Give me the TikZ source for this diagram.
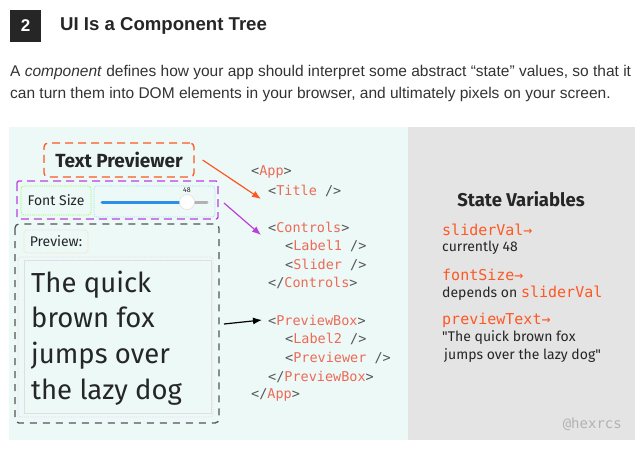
\documentclass[tikz,border=0pt]{standalone}
\usepackage{fontspec}
\setmainfont{Liberation Sans}
\setmonofont{DejaVu Sans Mono}
\newfontfamily\uifont{Fira Sans}
\usetikzlibrary{arrows.meta}
\definecolor{mint}{HTML}{ECF9F6}
\definecolor{panelgray}{HTML}{E4E4E4}
\definecolor{ink}{HTML}{262626}
\definecolor{bodytxt}{HTML}{333333}
\definecolor{tagred}{HTML}{EC6A58}
\definecolor{bracket}{HTML}{555555}
\definecolor{hot}{HTML}{FF5722}
\definecolor{purp}{HTML}{BB3FE0}
\definecolor{sliderblue}{HTML}{2E8FEA}
\definecolor{framegray}{HTML}{555555}
\newcommand{\otag}[1]{\textcolor{bracket}{<}\textcolor{tagred}{#1}\textcolor{bracket}{>}}
\newcommand{\ctag}[1]{\textcolor{bracket}{</}\textcolor{tagred}{#1}\textcolor{bracket}{>}}
\newcommand{\stag}[1]{\textcolor{bracket}{<}\textcolor{tagred}{#1}\textcolor{bracket}{\ />}}
\tikzset{code/.style={anchor=west,inner sep=0pt,font=\ttfamily\fontsize{13.5}{16}\selectfont},
  ui/.style={inner sep=0pt,text=ink,font=\uifont\fontsize{14}{17}\selectfont},
  var/.style={anchor=west,inner sep=0pt,text=hot,font=\ttfamily\fontsize{15}{18}\selectfont},
  dotbox/.style={draw,densely dotted,rounded corners=3pt,line width=0.8pt}}

\begin{document}
\begin{tikzpicture}[x=1pt,y=-1pt]
\useasboundingbox[fill=white] (0,0) rectangle (644,452);
% header
\node[fill=ink,minimum width=31,minimum height=32,inner sep=0pt,text=white,font=\bfseries\fontsize{17}{20}\selectfont] (num) at (25.5,26) {2};
\node[anchor=west,inner sep=0pt,text=ink,font=\bfseries\fontsize{18.6}{22}\selectfont] (head) at (60,26) {UI Is a Component Tree};
\node[anchor=west,inner sep=0pt,text=bodytxt,font=\fontsize{15.5}{18}\selectfont] (l1) at (10,72) {A \emph{component} defines how your app should interpret some abstract “state” values, so that it};
\node[anchor=west,inner sep=0pt,text=bodytxt,font=\fontsize{15.5}{18}\selectfont] (l2) at (10,94) {can turn them into DOM elements in your browser, and ultimately pixels on your screen.};
% panels
\fill[mint] (9,127) rectangle (408,440);
\fill[panelgray] (408,127) rectangle (635,440);
% the app
\node[draw=hot,dash pattern=on 8pt off 5pt,line width=1.3pt,rounded corners=4pt,minimum width=150,minimum height=34,text=ink,font=\uifont\bfseries\fontsize{19}{22}\selectfont] (tp) at (119,160) {Text Previewer};
\draw[purp,dash pattern=on 8pt off 5pt,line width=1.3pt,rounded corners=2pt] (17,181) rectangle (218,219);
\node[dotbox,draw=green!60!lime!70,minimum width=70,minimum height=29,ui] (fs) at (56,200.5) {Font Size};
\draw[dotbox,draw=cyan!40] (94,186) rectangle (215,217);
\draw[line width=3pt,gray!60,line cap=round] (187,202) -- (207,202);
\draw[line width=3pt,sliderblue,line cap=round] (102,202) -- (187,202);
\fill[white,draw=gray!30] (187,202) circle (7.5);
\node[ui,font=\uifont\fontsize{7}{8}\selectfont] (val) at (187,190) {48};
\draw[framegray,dash pattern=on 7pt off 6pt,line width=1.3pt,rounded corners=4pt] (15,224) rectangle (219,423);
\node[dotbox,draw=orange!30,minimum width=64,minimum height=23,ui] (pl) at (56,241.5) {Preview:};
\draw[dotbox,draw=purp!25] (18,257) rectangle (213,417);
\draw[gray!25,line width=1pt] (24,260) rectangle (211,413);
\foreach \t [count=\i] in {The quick,brown fox,jumps over,the lazy dog}
  \node[ui,anchor=base west,font=\uifont\fontsize{27.5}{30}\selectfont] (pv\i) at (31,256.5+35.7*\i) {\t};
% component tree
\node[code] (app) at (251,172) {\otag{App}};
\node[code] (title) at (268,191) {\stag{Title}};
\node[code] (ctrl) at (268,227) {\otag{Controls}};
\node[code] (lab1) at (285,246) {\stag{Label1}};
\node[code] (sld) at (285,265) {\stag{Slider}};
\node[code] (ctrlx) at (268,283) {\ctag{Controls}};
\node[code] (pbox) at (268,320) {\otag{PreviewBox}};
\node[code] (lab2) at (285,339) {\stag{Label2}};
\node[code] (prv) at (285,358) {\stag{Previewer}};
\node[code] (pboxx) at (268,377) {\ctag{PreviewBox}};
\node[code] (appx) at (251,395) {\ctag{App}};
\draw[hot,line width=1.2pt,-{Latex[length=9pt,width=7pt]}] ([xshift=8pt]tp.east) -- ([shift={(-7pt,-8pt)}]title.west);
\draw[purp,line width=1.2pt,-{Latex[length=9pt,width=7pt]}] (224,203) -- ([shift={(-7pt,-8pt)}]ctrl.west);
\draw[black,line width=1.2pt,-{Latex[length=9pt,width=7pt]}] (224,324) -- ([xshift=-6pt]pbox.west);
% state variables
\node[ui,font=\uifont\bfseries\fontsize{18.5}{22}\selectfont] (sv) at (521,199) {State Variables};
\node[var] (v1) at (442,230) {sliderVal→};
\node[ui,anchor=west] (d1) at (442,248) {currently 48};
\node[var] (v2) at (442,275) {fontSize→};
\node[ui,anchor=west] (d2) at (442,293) {depends on \textcolor{hot}{\ttfamily\fontsize{15}{17}\selectfont sliderVal}};
\node[var] (v3) at (442,320) {previewText→};
\node[ui,anchor=west] (d3) at (442,338) {"The quick brown fox};
\node[ui,anchor=west] (d4) at (444,356) {jumps over the lazy dog"};
\node[anchor=east,inner sep=0pt,text=gray!60,font=\ttfamily\fontsize{14}{16}\selectfont] (sig) at (622,424) {@hexrcs};
\end{tikzpicture}
\end{document}
